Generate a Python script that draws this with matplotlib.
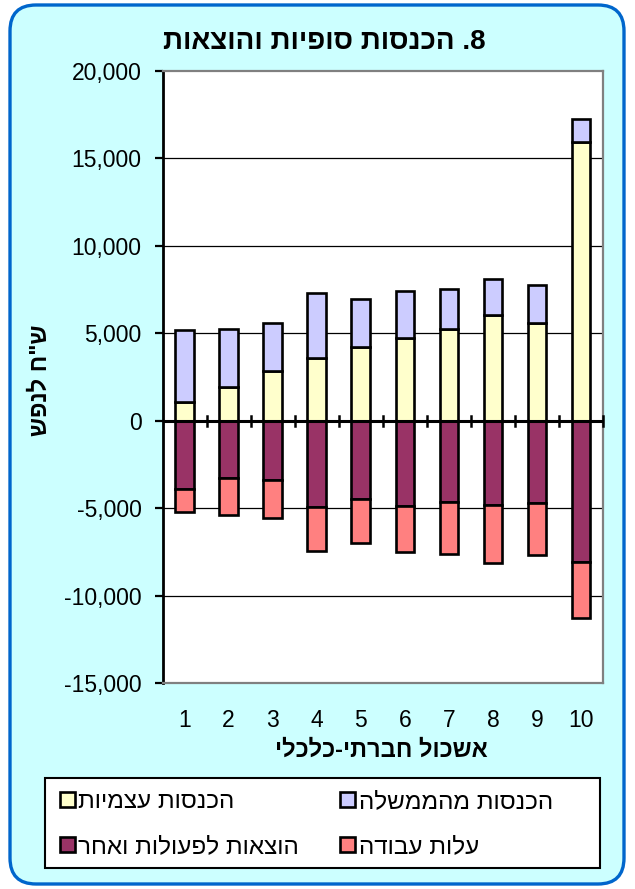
import matplotlib
matplotlib.use("Agg")
import matplotlib.pyplot as plt
from matplotlib.patches import FancyBboxPatch, Rectangle
from matplotlib.ticker import FuncFormatter

plt.rcParams['font.family'] = ['Liberation Sans', 'DejaVu Sans']

# data (NIS per person, by socio-economic cluster)
clusters = [1, 2, 3, 4, 5, 6, 7, 8, 9, 10]
own_income = [1050, 1950, 2870, 3580, 4200, 4750, 5270, 6070, 5590, 15960]
gov_income = [4120, 3320, 2690, 3700, 2740, 2680, 2280, 2020, 2170, 1320]
ops_spend = [-3920, -3290, -3400, -4940, -4470, -4870, -4660, -4830, -4720, -8080]
labor_cost = [-1310, -2130, -2160, -2520, -2500, -2610, -2940, -3320, -2940, -3220]

title = "8. הכנסות סופיות והוצאות"
xlabel = "אשכול חברתי-כלכלי"
ylabel = 'ש"ח לנפש'
names = ["הכנסות עצמיות", "הוצאות לפעולות ואחר", "הכנסות מהממשלה", "עלות עבודה"]


def heb(s):
    # matplotlib has no bidi, so flip the text by hand
    return s[::-1]


W, H = 635, 889
fig = plt.figure(figsize=(W / 100, H / 100), dpi=100)

# rounded cyan frame behind everything
bg = fig.add_axes([0, 0, 1, 1], zorder=-10)
bg.set_xlim(0, W)
bg.set_ylim(H, 0)
bg.axis('off')
bg.add_patch(FancyBboxPatch((10, 5), W - 21, H - 10, boxstyle="round,pad=0,rounding_size=26",
                            facecolor="#CCFFFF", edgecolor="#0066CC", linewidth=2.4))
# legend box
bg.add_patch(Rectangle((45, 778), 555, 90, facecolor="white", edgecolor="black", linewidth=1.5))

left, right, top, bottom = 162.5, 603, 71, 683
ax = fig.add_axes([left / W, 1 - bottom / H, (right - left) / W, (bottom - top) / H])
ax.set_facecolor("white")

bw = 0.42
lw = 1.9
ax.bar(clusters, own_income, bw, color="#FFFFCC", edgecolor="black", linewidth=lw, zorder=3)
ax.bar(clusters, gov_income, bw, bottom=own_income, color="#CCCCFF", edgecolor="black",
       linewidth=lw, zorder=3)
ax.bar(clusters, ops_spend, bw, color="#993366", edgecolor="black", linewidth=lw, zorder=3)
ax.bar(clusters, labor_cost, bw, bottom=ops_spend, color="#FF8080", edgecolor="black",
       linewidth=lw, zorder=3)

ax.set_xlim(0.5, 10.5)
ax.set_ylim(-15000, 20000)
ax.set_yticks(range(-15000, 20001, 5000))
ax.yaxis.set_major_formatter(FuncFormatter(lambda v, p: f"{int(v):,}"))
for yv in [-10000, -5000, 5000, 10000, 15000]:
    ax.axhline(yv, color="black", linewidth=0.9, zorder=1)

# zero axis with the category ticks crossing it
ax.axhline(0, color="black", linewidth=2.2, zorder=4)
for xv in [c + 0.5 for c in clusters]:
    ax.plot([xv, xv], [-280, 280], color="black", linewidth=1.8, zorder=4, clip_on=False)

ax.set_xticks(clusters)
ax.tick_params(axis='x', length=0, pad=19, labelsize=16.5)
ax.tick_params(axis='y', length=6, width=1.6, direction='out', pad=9, labelsize=16.5)

for s in ['top', 'right', 'bottom']:
    ax.spines[s].set_color("#808080")
    ax.spines[s].set_linewidth(1.6)
ax.spines['left'].set_color("black")
ax.spines['left'].set_linewidth(2)

fig.text(324 / W, 1 - 42 / H, heb(title), ha='center', va='center', fontsize=20, fontweight='bold')
fig.text(381 / W, 1 - 750 / H, heb(xlabel), ha='center', va='center', fontsize=17, fontweight='bold')
fig.text(40 / W, 1 - 380 / H, heb(ylabel), ha='center', va='center', rotation=90,
         fontsize=17, fontweight='bold')

handles = ax.containers[:]
order = [handles[0], handles[2], handles[1], handles[3]]
leg = fig.legend(order, [heb(n) for n in names], ncol=2, loc='upper left',
                 bbox_to_anchor=(60 / W, 1 - 791 / H), frameon=False,
                 fontsize=17.5, handlelength=0.6, handleheight=0.6, handletextpad=0.15,
                 borderaxespad=0, borderpad=0, labelspacing=0.95, columnspacing=1.7)

fig.savefig("out.png", dpi=100)
